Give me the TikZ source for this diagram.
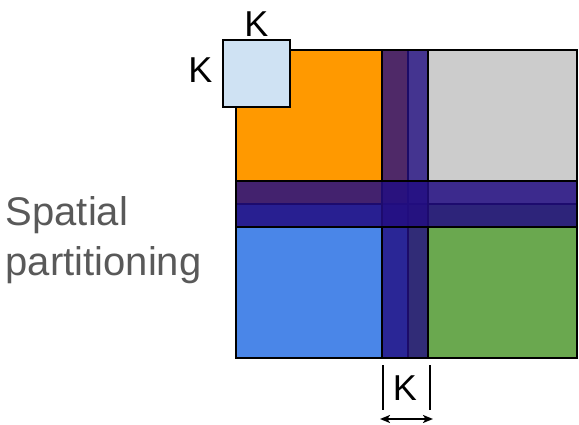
\documentclass[tikz,border=0pt]{standalone}
\usepackage{fontspec}
\setmainfont{Liberation Sans}
\usetikzlibrary{positioning, arrows.meta}

\definecolor{quadorange}{RGB}{255,153,0}
\definecolor{quadgray}{RGB}{204,204,204}
\definecolor{quadblue}{RGB}{74,134,232}
\definecolor{quadgreen}{RGB}{106,168,79}
\definecolor{halo}{RGB}{35,14,130}
\definecolor{kernel}{RGB}{207,226,243}
\definecolor{textgray}{RGB}{89,89,89}

\begin{document}
\begin{tikzpicture}[>={Stealth[length=10pt, width=8pt, inset=2.5pt]}, x=1pt, y=-1pt]
    \tikzstyle{quad} = [draw, line width=1.5pt, inner sep=0pt, outer sep=0pt,
	minimum height=154pt]
    \tikzstyle{strip} = [draw, line width=1.5pt, inner sep=0pt, outer sep=0pt,
	fill=halo]
    \tikzstyle{kname} = [inner sep=0pt, font=\fontsize{36}{43}\selectfont]

	\useasboundingbox (0,0) rectangle (579,425);

	\begin{scope}
		\path[-, line width=1.5pt]
			node[quad, fill=quadorange, minimum width=172pt] (q_1) at (322,127) {}
			node[quad, fill=quadgray, minimum width=169pt, right=0pt of q_1] (q_2) {}
			node[quad, fill=quadblue, minimum width=172pt, below=0pt of q_1] (q_3) {}
			node[quad, fill=quadgreen, minimum width=169pt, below=0pt of q_2] (q_4) {}

			% halo strips across the split
			node[strip, fill opacity=0.8, minimum width=46pt, minimum height=308pt] (s_v) at (405,204) {}
			node[strip, fill opacity=0.85, minimum width=341pt, minimum height=46pt] (s_h) at (406.5,204) {}

			node[draw, line width=1.5pt, fill=kernel, inner sep=0pt, minimum size=67pt] (k_sq) at (256.5,73.5) {}
			node[kname, above=2pt of k_sq] (k_top) {K}
			node[kname, left=9pt of k_sq, yshift=3.5pt] (k_left) {K}
			node[kname, below=17pt of s_v] (k_bot) {K}

			node[align=left, text=textgray, font=\fontsize{40}{50}\selectfont,
			inner sep=0pt, anchor=west] (t_part) at (5,240) {Spatial\\partitioning}

			coordinate (w_1) at (383,365)
			coordinate (w_2) at (383,410)
			coordinate (w_3) at (430,365)
			coordinate (w_4) at (430,410)
			coordinate (a_1) at (380,419)
			coordinate (a_2) at (433,419)

			(w_1) edge (w_2)
			(w_3) edge (w_4)
			(a_1) edge[<->, line width=1.8pt] (a_2)
		;
	\end{scope}
\end{tikzpicture}
\end{document}
